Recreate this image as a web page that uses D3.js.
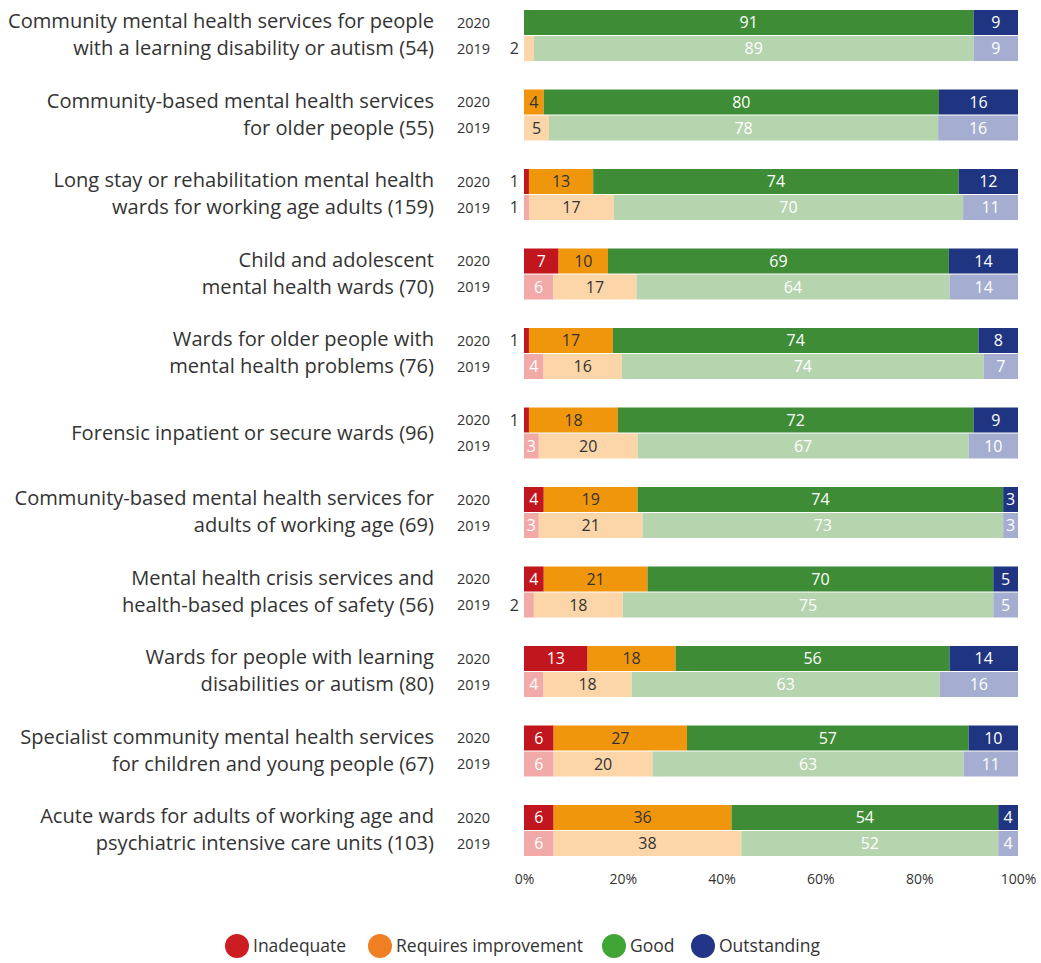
<!DOCTYPE html>
<html>
<head>
<meta charset="utf-8">
<script src="https://cdn.jsdelivr.net/npm/d3@7"></script>
<style>
  body { margin: 0; background: #fff; }
  text { font-family: "Open Sans", sans-serif; }
</style>
</head>
<body>
<div id="chart"></div>
<script>
// categories (two lines each where the original wraps)
var categories = [
  ["Community mental health services for people", "with a learning disability or autism (54)"],
  ["Community-based mental health services", "for older people (55)"],
  ["Long stay or rehabilitation mental health", "wards for working age adults (159)"],
  ["Child and adolescent", "mental health wards (70)"],
  ["Wards for older people with", "mental health problems (76)"],
  ["Forensic inpatient or secure wards (96)"],
  ["Community-based mental health services for", "adults of working age (69)"],
  ["Mental health crisis services and", "health-based places of safety (56)"],
  ["Wards for people with learning", "disabilities or autism (80)"],
  ["Specialist community mental health services", "for children and young people (67)"],
  ["Acute wards for adults of working age and", "psychiatric intensive care units (103)"]
];
var years = ["2020", "2019"];
var ratings = ["Inadequate", "Requires improvement", "Good", "Outstanding"];

// [inadequate, requires improvement, good, outstanding]
var values2020 = [
  [0, 0, 91, 9], [0, 4, 80, 16], [1, 13, 74, 12], [7, 10, 69, 14],
  [1, 17, 74, 8], [1, 18, 72, 9], [4, 19, 74, 3], [4, 21, 70, 5],
  [13, 18, 56, 14], [6, 27, 57, 10], [6, 36, 54, 4]
];
var values2019 = [
  [0, 2, 89, 9], [0, 5, 78, 16], [1, 17, 70, 11], [6, 17, 64, 14],
  [4, 16, 74, 7], [3, 20, 67, 10], [3, 21, 73, 3], [2, 18, 75, 5],
  [4, 18, 63, 16], [6, 20, 63, 11], [6, 38, 52, 4]
];
var tickValues = [0, 20, 40, 60, 80, 100];

var colors2020 = ["#c1161d", "#f0960c", "#3e8c35", "#1f3581"];
var colors2019 = ["#f2aaa9", "#fcd6a9", "#b6d4ae", "#a5aed0"];
var textColors = ["#fff", "#333", "#fff", "#fff"];
var legendColors = ["#cc1d22", "#ef7f22", "#3fa535", "#223586"];

var W = 1041, H = 963;
var svg = d3.select("#chart").append("svg")
  .attr("width", W).attr("height", H);

var x = d3.scaleLinear().domain([0, 100]).range([524, 1018]);
var groupY = d3.scaleBand()
  .domain(d3.range(categories.length))
  .range([10, 10 + 79.5 * categories.length])
  .paddingInner(0).paddingOuter(0);
var barH = 25;

categories.forEach(function(cat, i) {
  var g = svg.append("g").attr("transform", "translate(0," + groupY(i) + ")");
  var mid = barH;

  // category label
  var lbl = g.append("text")
    .attr("text-anchor", "end")
    .attr("x", 434)
    .attr("fill", "#333")
    .style("font-size", "20.1px");
  if (cat.length === 1) {
    lbl.append("tspan").attr("x", 434).attr("y", mid).attr("dy", "0.35em").text(cat[0]);
  } else {
    lbl.append("tspan").attr("x", 434).attr("y", mid - 14).attr("dy", "0.35em").text(cat[0]);
    lbl.append("tspan").attr("x", 434).attr("y", mid + 13).attr("dy", "0.35em").text(cat[1]);
  }

  [values2020[i], values2019[i]].forEach(function(vals, k) {
    var y0 = k * (barH + 1);
    var total = d3.sum(vals);
    var cum = 0;
    var colors = k === 0 ? colors2020 : colors2019;

    g.append("text")
      .attr("x", 457)
      .attr("y", y0 + barH / 2)
      .attr("dy", "0.35em")
      .attr("fill", "#333")
      .style("font-size", "14.5px")
      .text(years[k]);

    vals.forEach(function(v, j) {
      var a = cum / total * 100, b = (cum + v) / total * 100;
      cum += v;
      if (v === 0) return;
      g.append("rect")
        .attr("x", x(a))
        .attr("y", y0)
        .attr("width", x(b) - x(a))
        .attr("height", barH)
        .attr("fill", colors[j]);
      var small = v < 3 && a < 1;
      var t = g.append("text")
        .attr("y", y0 + barH / 2)
        .attr("dy", "0.36em")
        .style("font-size", "16px")
        .text(v);
      if (small) {
        t.attr("x", x(0) - 5).attr("text-anchor", "end").attr("fill", "#333");
      } else {
        t.attr("x", (x(a) + x(b)) / 2).attr("text-anchor", "middle").attr("fill", textColors[j]);
      }
    });
  });
});

// x axis
var axis = svg.append("g")
  .attr("transform", "translate(0,871)")
  .call(d3.axisBottom(x).tickValues(tickValues).tickSize(0).tickFormat(function(d) { return d + "%"; }));
axis.select(".domain").remove();
axis.selectAll("text")
  .style("font-family", "'Open Sans', sans-serif")
  .style("font-size", "14px")
  .attr("fill", "#333");

// legend
var legendX = [237, 380, 614, 703];
var legend = svg.append("g").attr("transform", "translate(0,946)");
ratings.forEach(function(r, i) {
  legend.append("circle")
    .attr("cx", legendX[i]).attr("cy", 0).attr("r", 12)
    .attr("fill", legendColors[i]);
  legend.append("text")
    .attr("x", legendX[i] + 16).attr("y", 0).attr("dy", "0.35em")
    .attr("fill", "#333")
    .style("font-size", "17.5px")
    .text(r);
});
</script>
</body>
</html>
